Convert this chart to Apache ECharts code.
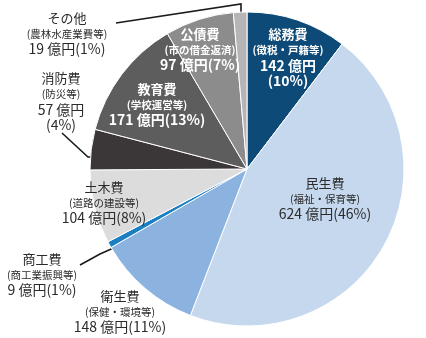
<!DOCTYPE html>
<html><head><meta charset="utf-8">
<script src="https://cdn.jsdelivr.net/npm/echarts@6/dist/echarts.min.js"></script>
<style>html,body{margin:0;padding:0;background:#fff}#c{width:426px;height:338px}</style>
</head><body><div id="c"></div>
<script>
const categories = ['総務費','民生費','衛生費','商工費','土木費','消防費','教育費','公債費','その他'];
const subtitles = ['(徴税・戸籍等)','(福祉・保育等)','(保健・環境等)','(商工業振興等)','(道路の建設等)','(防災等)','(学校運営等)','(市の借金返済)','(農林水産業費等)'];
const values = [142, 624, 148, 9, 104, 57, 171, 97, 19];
const percents = [10, 46, 11, 1, 8, 4, 13, 7, 1];
const splitPct = [true, false, false, false, false, true, false, false, false];

const colors = ['#0d4a77','#c5d8ee','#8cb3df','#1b7fc4','#dcdcdc','#3b3637','#5e5d5e','#8d8c8c','#b5b5b5'];
const darkText = [true, false, false, false, false, false, true, true, false];
const labelPos = [[288,57],[325,198],[120,311],[42,274],[104,202],[61,101],[157,104],[200,49],[67,33]];
const leaders = {8: [[116,23],[241,4],[241,30]], 5: [[62,133],[88,157],[114,157]], 3: [[80,265],[100,254],[118,246]]};

const font = '"Noto Sans CJK JP", "Noto Sans", sans-serif';
function rich(white){
  const c = white ? '#ffffff' : '#2b2b2b';
  const w = white ? 'bold' : 'normal';
  return {
    t: {fontSize: 13, fontWeight: w, color: c, lineHeight: 17, fontFamily: font},
    s: {fontSize: 10.5, fontWeight: w, color: c, lineHeight: 15, fontFamily: font},
    v: {fontSize: 14, fontWeight: w, color: c, lineHeight: 15, fontFamily: font}
  };
}

const data = categories.map((name, i) => ({
  name, value: values[i],
  itemStyle: {color: colors[i]},
  label: {
    formatter: '{t|' + name + '}\n{s|' + subtitles[i] + '}\n{v|' + values[i] + ' 億円' + (splitPct[i] ? '}\n{v|' : '') + '(' + percents[i] + '%)}',
    rich: rich(darkText[i])
  },
  labelLine: {show: !!leaders[i]}
}));

const chart = echarts.init(document.getElementById('c'), null, {renderer: 'canvas'});
chart.setOption({
  animation: false,
  series: [{
    type: 'pie',
    center: [247, 169],
    radius: 157,
    startAngle: 90,
    clockwise: true,
    avoidLabelOverlap: false,
    itemStyle: {borderColor: '#ffffff', borderWidth: 1},
    label: {show: true, position: 'outside', align: 'center', fontFamily: font},
    labelLine: {show: false, lineStyle: {color: '#1a1a1a', width: 1.6, shadowColor: '#ffffff', shadowBlur: 3}},
    labelLayout: function (p) {
      const i = p.dataIndex;
      const o = {x: labelPos[i][0], y: labelPos[i][1], align: 'center', verticalAlign: 'middle'};
      if (leaders[i]) o.labelLinePoints = leaders[i];
      return o;
    },
    data
  }]
});
</script></body></html>
